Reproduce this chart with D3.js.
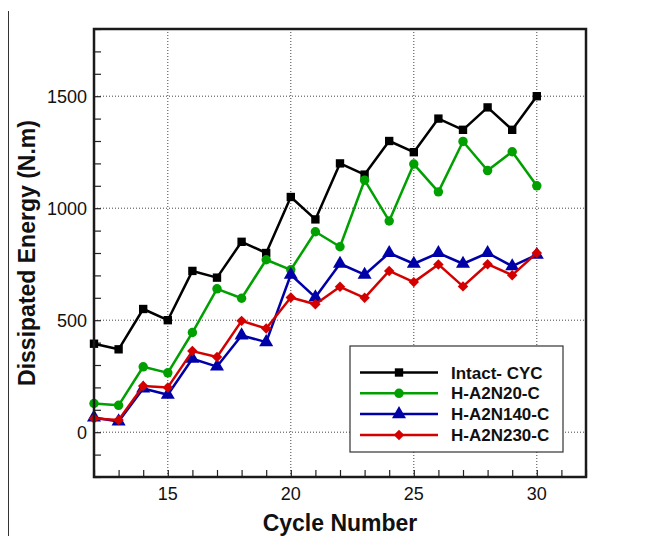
<!DOCTYPE html>
<html>
<head>
<meta charset="utf-8">
<script src="https://cdn.jsdelivr.net/npm/d3@7"></script>
<style>
  body { margin: 0; background: #fff; }
  svg { display: block; font-family: 'Liberation Sans', Arial, sans-serif; }
</style>
</head>
<body>
<svg width="652" height="536"></svg>
<script>
(function() {
  'use strict';

  const cycles = [12, 13, 14, 15, 16, 17, 18, 19, 20, 21, 22, 23, 24, 25, 26, 27, 28, 29, 30];
  const intactCyc = [395, 370, 550, 500, 720, 690, 850, 800, 1050, 950, 1200, 1150, 1300, 1250, 1400, 1350, 1450, 1350, 1500];
  const hA2N20 = [128, 120, 292, 265, 445, 640, 598, 770, 725, 895, 828, 1125, 943, 1197, 1073, 1298, 1168, 1252, 1100];
  const hA2N140 = [66, 48, 195, 167, 328, 293, 432, 402, 703, 602, 752, 703, 800, 752, 800, 752, 800, 741, 792];
  const hA2N230 = [61, 55, 206, 200, 362, 336, 497, 463, 601, 571, 649, 600, 720, 670, 749, 651, 750, 701, 800];
  const seriesNames = ['Intact- CYC', 'H-A2N20-C', 'H-A2N140-C', 'H-A2N230-C'];
  const xTicks = [15, 20, 25, 30];
  const yTicks = [0, 500, 1000, 1500];

  const colors = ['#000000', '#00a000', '#0000a8', '#d40000'];
  const shapes = [d3.symbolSquare, d3.symbolCircle, d3.symbolTriangle, d3.symbolSquare];
  const sizes = [70, 70, 85, 55];
  const rotations = [0, 0, 0, 45];

  const series = [intactCyc, hA2N20, hA2N140, hA2N230].map((vals, i) => ({
    name: seriesNames[i],
    color: colors[i],
    shape: shapes[i],
    size: sizes[i],
    rot: rotations[i],
    points: vals.map((v, j) => ({x: cycles[j], y: v})),
  }));

  const margin = {top: 29, right: 66, bottom: 59, left: 94};
  const svg = d3.select('svg');
  const width = +svg.attr('width') - margin.left - margin.right;
  const height = +svg.attr('height') - margin.top - margin.bottom;

  // stray border line on the left of the original figure
  svg.append('line')
      .attr('x1', 8.5).attr('x2', 8.5)
      .attr('y1', 11).attr('y2', 536)
      .attr('stroke', '#333')
      .attr('stroke-width', 1);

  const g = svg.append('g')
      .attr('transform', 'translate(' + margin.left + ',' + margin.top + ')');

  const x = d3.scaleLinear().domain([12, 32]).range([0, width]);
  const y = d3.scaleLinear().domain([-200, 1800]).range([height, 0]);

  // dotted grid
  g.append('g')
      .selectAll('line')
      .data(xTicks)
      .join('line')
      .attr('x1', (d) => x(d)).attr('x2', (d) => x(d))
      .attr('y1', 0).attr('y2', height)
      .attr('stroke', '#444')
      .attr('stroke-width', 1)
      .attr('stroke-dasharray', '1,2');

  g.append('g')
      .selectAll('line')
      .data(yTicks)
      .join('line')
      .attr('x1', 0).attr('x2', width)
      .attr('y1', (d) => y(d)).attr('y2', (d) => y(d))
      .attr('stroke', '#444')
      .attr('stroke-width', 1)
      .attr('stroke-dasharray', '1,2');

  // minor ticks, pointing inward
  const xAxis = g.append('g')
      .attr('transform', 'translate(0,' + height + ')')
      .call(d3.axisTop(x).ticks(20).tickSize(7).tickFormat(''));
  xAxis.select('.domain').remove();
  xAxis.selectAll('line').attr('stroke', '#222').attr('stroke-width', 1.2);

  const yAxis = g.append('g')
      .call(d3.axisRight(y).ticks(20).tickSize(7).tickFormat(''));
  yAxis.select('.domain').remove();
  yAxis.selectAll('line').attr('stroke', '#222').attr('stroke-width', 1.2);

  // tick labels
  g.append('g')
      .selectAll('text')
      .data(xTicks)
      .join('text')
      .attr('x', (d) => x(d))
      .attr('y', height + 23)
      .attr('text-anchor', 'middle')
      .attr('font-size', 18)
      .attr('fill', '#111')
      .text((d) => d);

  g.append('g')
      .selectAll('text')
      .data(yTicks)
      .join('text')
      .attr('x', -7)
      .attr('y', (d) => y(d))
      .attr('dy', '0.36em')
      .attr('text-anchor', 'end')
      .attr('font-size', 18)
      .attr('fill', '#111')
      .text((d) => d);

  // series
  const line = d3.line()
      .x((d) => x(d.x))
      .y((d) => y(d.y));

  series.forEach((s) => {
    g.append('path')
        .datum(s.points)
        .attr('fill', 'none')
        .attr('stroke', s.color)
        .attr('stroke-width', 2.5)
        .attr('stroke-linejoin', 'round')
        .attr('d', line);

    g.append('g')
        .selectAll('path')
        .data(s.points)
        .join('path')
        .attr('transform', (d) => 'translate(' + x(d.x) + ',' + y(d.y) + ') rotate(' + s.rot + ')')
        .attr('d', d3.symbol().type(s.shape).size(s.size))
        .attr('fill', s.color);
  });

  // frame
  g.append('rect')
      .attr('width', width)
      .attr('height', height)
      .attr('fill', 'none')
      .attr('stroke', '#1a1a1a')
      .attr('stroke-width', 2.5);

  // legend
  const legend = g.append('g')
      .attr('transform', 'translate(' + (350 - margin.left) + ',' + (346 - margin.top) + ')');
  legend.append('rect')
      .attr('width', 213)
      .attr('height', 106)
      .attr('fill', '#fff')
      .attr('stroke', '#333')
      .attr('stroke-width', 1.2);

  const rows = legend.selectAll('g.row')
      .data(series)
      .join('g')
      .attr('class', 'row')
      .attr('transform', (d, i) => 'translate(0,' + (26.5 + i * 20.8) + ')');
  rows.append('line')
      .attr('x1', 10).attr('x2', 88)
      .attr('stroke', (d) => d.color)
      .attr('stroke-width', 2.5);
  rows.append('path')
      .attr('transform', (d) => 'translate(49,0) rotate(' + d.rot + ')')
      .attr('d', (d) => d3.symbol().type(d.shape).size(d.size)())
      .attr('fill', (d) => d.color);
  rows.append('text')
      .attr('x', 101)
      .attr('dy', '0.36em')
      .attr('font-size', 17)
      .attr('font-weight', 'bold')
      .attr('fill', '#111')
      .text((d) => d.name);

  // axis titles
  svg.append('text')
      .attr('transform', 'translate(' + 35 + ',' + (margin.top + height / 2) + ') rotate(-90)')
      .attr('text-anchor', 'middle')
      .attr('font-size', 23)
      .attr('font-weight', 'bold')
      .attr('fill', '#111')
      .text('Dissipated Energy (N.m)');

  svg.append('text')
      .attr('x', margin.left + width / 2)
      .attr('y', 531)
      .attr('text-anchor', 'middle')
      .attr('font-size', 23)
      .attr('font-weight', 'bold')
      .attr('fill', '#111')
      .text('Cycle Number');
})();
</script>
</body>
</html>
